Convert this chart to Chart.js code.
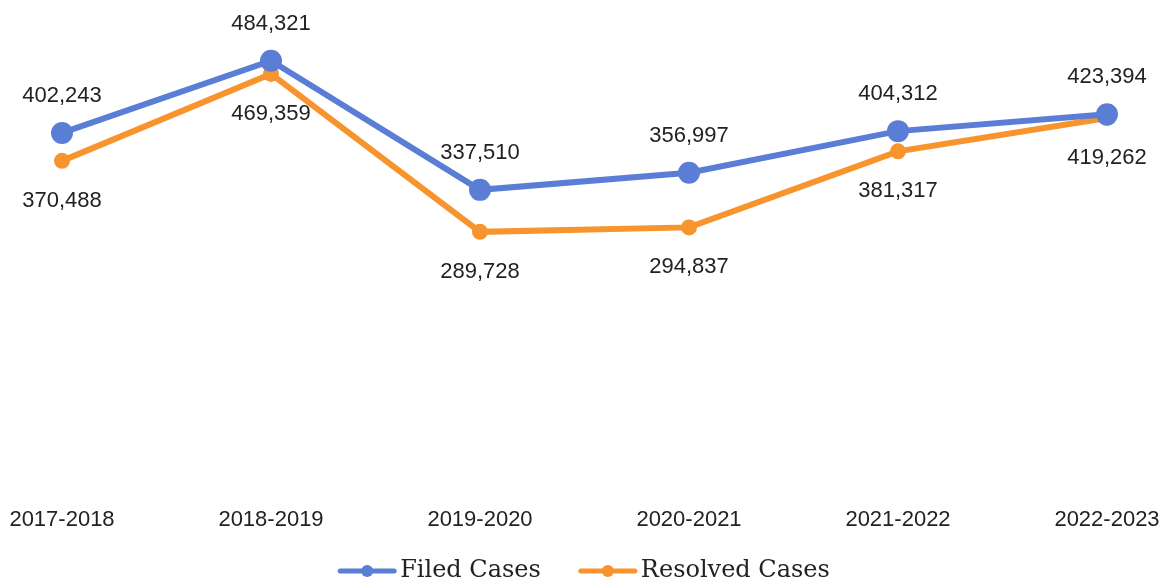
<!DOCTYPE html>
<html><head><meta charset="utf-8">
<script src="https://cdn.jsdelivr.net/npm/chart.js@4/dist/chart.umd.min.js"></script>
<style>html,body{margin:0;padding:0;background:#fff}#wrap{width:1165px;height:585px}</style>
</head><body><div id="wrap"><canvas id="c"></canvas></div>
<script>
const categories = ["2017-2018","2018-2019","2019-2020","2020-2021","2021-2022","2022-2023"];
const filedCases = [402243,484321,337510,356997,404312,423394];
const resolvedCases = [370488,469359,289728,294837,381317,419262];
const seriesNames = ["Filed Cases","Resolved Cases"];
const BLUE = "#5a7dd6", ORANGE = "#f7942d";

const labelPlugin = {
  id:'vals',
  afterDatasetsDraw(chart){
    const ctx = chart.ctx;
    ctx.save();
    ctx.font = '22px "Liberation Sans", Arial, sans-serif';
    ctx.fillStyle = '#222';
    ctx.textAlign = 'center'; ctx.textBaseline = 'middle';
    chart.data.datasets.forEach((ds,i)=>{
      const meta = chart.getDatasetMeta(i);
      meta.data.forEach((pt,j)=>{
        const v = ds.data[j].toLocaleString('en-US');
        const dy = i===0 ? -37 : 40;
        ctx.fillText(v, pt.x, pt.y+dy);
      });
    });
    ctx.restore();
  }
};
const legendPlugin = {
  id:'customLegend',
  afterDraw(chart){
    const ctx = chart.ctx;
    ctx.save();
    ctx.font = '24px "DejaVu Serif", "Liberation Serif", serif';
    const iconW = 58, gapText = 4, gapItem = 38;
    const ds = chart.data.datasets;
    const widths = ds.map(d=>ctx.measureText(d.label).width);
    let total = 0;
    ds.forEach((d,i)=>{ total += iconW + gapText + widths[i]; if(i<ds.length-1) total += gapItem; });
    let x = 584 - total/2;
    const yLine = 571, yText = 577;
    ds.forEach((d,i)=>{
      ctx.strokeStyle = d.borderColor; ctx.lineWidth = 5; ctx.lineCap = 'round';
      ctx.beginPath(); ctx.moveTo(x+2, yLine); ctx.lineTo(x+iconW-2, yLine); ctx.stroke();
      ctx.fillStyle = d.borderColor; ctx.beginPath(); ctx.arc(x+iconW/2, yLine, 6, 0, Math.PI*2); ctx.fill();
      x += iconW + gapText;
      ctx.fillStyle = '#222'; ctx.textAlign='left'; ctx.textBaseline='alphabetic';
      ctx.fillText(d.label, x, yText);
      x += widths[i] + gapItem;
    });
    ctx.restore();
  }
};
new Chart(document.getElementById('c'),{
  type:'line',
  data:{labels:categories,datasets:[
    {label:seriesNames[0],data:filedCases,borderColor:BLUE,backgroundColor:BLUE,borderWidth:6,pointRadius:11,pointHoverRadius:11,pointBackgroundColor:BLUE,pointBorderWidth:0,tension:0},
    {label:seriesNames[1],data:resolvedCases,borderColor:ORANGE,backgroundColor:ORANGE,borderWidth:6,pointRadius:8,pointHoverRadius:8,pointBackgroundColor:ORANGE,pointBorderWidth:0,tension:0}
  ]},
  options:{
    responsive:true,maintainAspectRatio:false,animation:false,
    layout:{autoPadding:false,padding:{left:62,right:58,top:47,bottom:47}},
    scales:{
      x:{offset:false,grid:{display:false,drawTicks:true,tickLength:15},border:{display:false},
         ticks:{padding:5,color:'#222',font:{family:'"Liberation Sans", Arial, sans-serif',size:22},maxRotation:0,autoSkip:false}},
      y:{display:false,min:0,max:500000}
    },
    plugins:{legend:{display:false},tooltip:{enabled:false}}
  },
  plugins:[labelPlugin,legendPlugin]
});
</script></body></html>
